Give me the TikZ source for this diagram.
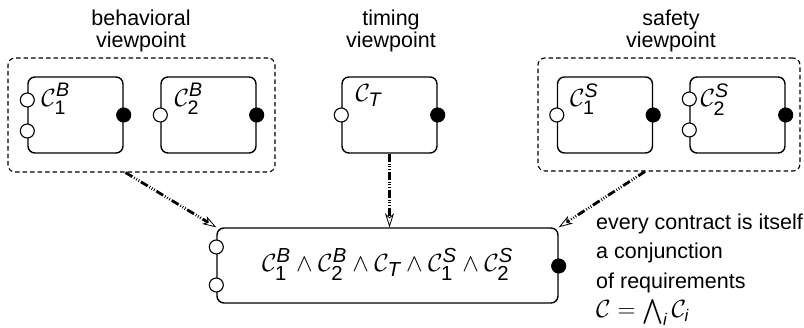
\documentclass[tikz,border=0pt]{standalone}
\usepackage{amsmath}
\usepackage{fontspec}
\setmainfont{Liberation Sans}
\setsansfont{Liberation Sans}
\usetikzlibrary{arrows.meta}
\newcommand\cC[2]{\mathcal{C}_{#1}^{#2}}
\tikzset{
  txt/.style={font=\fontsize{21.5}{21.7}\selectfont, inner sep=0pt},
  mtxt/.style={font=\fontsize{28}{30}\selectfont, inner sep=0pt},
  comp/.style={draw, line width=1.4pt, rounded corners=7pt, minimum width=95pt, minimum height=76pt, inner sep=0pt},
  vpbox/.style={draw, line width=1.1pt, dash pattern=on 4.5pt off 3pt, rounded corners=7pt, inner sep=0pt},
  inport/.style={circle, draw, fill=white, line width=1.1pt, minimum size=14pt, inner sep=0pt},
  outport/.style={circle, draw, fill=black, line width=1.1pt, minimum size=14pt, inner sep=0pt},
  clabel/.style={mtxt, anchor=north west},
  refine/.style={line width=2.8pt, dash pattern=on 8pt off 2pt on 0.8pt off 1.8pt on 0.8pt off 1.8pt on 0.8pt off 2pt,
    -{Stealth[open, length=14pt, width=9pt, inset=4pt, line width=0.8pt]}}
}
\begin{document}
\begin{tikzpicture}[x=1pt, y=-1pt]
\useasboundingbox (0,0) rectangle (804,328);

% viewpoint titles
\node[txt, anchor=north, align=center] (tbeh) at (141,9.8) {behavioral\\viewpoint};
\node[txt, anchor=north, align=center] (ttim) at (391,9.8) {\vphantom{b}timing\\viewpoint};
\node[txt, anchor=north, align=center] (tsaf) at (671,9.8) {\vphantom{b}safety\\viewpoint};

% dashed viewpoint boxes
\node[vpbox, minimum width=267pt, minimum height=114pt] (behav) at (141.5,115) {};
\node[vpbox, minimum width=262pt, minimum height=113pt] (safety) at (669,114.5) {};

% behavioral components
\node[comp] (c1b) at (75.5,115) {};
\node[clabel] (c1bl) at ([xshift=14pt,yshift=-7pt]c1b.north west) {$\cC{\mathsf{1}}{\mathit{B}}$};
\node[inport] (c1bi1) at ([yshift=15pt]c1b.west) {};
\node[inport] (c1bi2) at ([yshift=-16pt]c1b.west) {};
\node[outport] (c1bo) at (c1b.east) {};

\node[comp] (c2b) at (208.5,115) {};
\node[clabel] (c2bl) at ([xshift=14pt,yshift=-7pt]c2b.north west) {$\cC{\mathsf{2}}{\mathit{B}}$};
\node[inport] (c2bi) at (c2b.west) {};
\node[outport] (c2bo) at (c2b.east) {};

% timing component
\node[comp] (ct) at (389.5,115) {};
\node[clabel] (ctl) at ([xshift=14pt,yshift=-8pt]ct.north west) {$\mathcal{C}_{\mathit{T}}$};
\node[inport] (cti) at (ct.west) {};
\node[outport] (cto) at (ct.east) {};

% safety components
\node[comp] (c1s) at (605,115) {};
\node[clabel] (c1sl) at ([xshift=13pt,yshift=-7pt]c1s.north west) {$\cC{\mathsf{1}}{\mathit{S}}$};
\node[inport] (c1si) at (c1s.west) {};
\node[outport] (c1so) at (c1s.east) {};

\node[comp] (c2s) at (737.5,115) {};
\node[clabel] (c2sl) at ([xshift=11pt,yshift=-7pt]c2s.north west) {$\cC{\mathsf{2}}{\mathit{S}}$};
\node[inport] (c2si1) at ([yshift=16pt]c2s.west) {};
\node[inport] (c2si2) at ([yshift=-15pt]c2s.west) {};
\node[outport] (c2so) at (c2s.east) {};

% conjunction component
\node[comp, minimum width=341pt, minimum height=75pt] (big) at (387.5,265.5) {};
\node[mtxt, font=\fontsize{29}{31}\selectfont] (bigl) at (387.5,264.5) {$\cC{\mathsf{1}}{\mathit{B}}\wedge\cC{\mathsf{2}}{\mathit{B}}\wedge\mathcal{C}_{\mathit{T}}\wedge\cC{\mathsf{1}}{\mathit{S}}\wedge\cC{\mathsf{2}}{\mathit{S}}$};
\node[inport] (bigi1) at ([yshift=18.5pt]big.west) {};
\node[inport] (bigi2) at ([yshift=-19.5pt]big.west) {};
\node[outport] (bigo) at ([yshift=-0.5pt]big.east) {};

% refinement connectors
\coordinate (bstart) at ([xshift=-16pt]behav.south);
\coordinate (sstart) at ([xshift=-24pt]safety.south);
\draw[refine] (bstart) -- (big.north west);
\draw[refine] (ct.south) -- (ct.south |- big.north);
\draw[refine] (sstart) -- (big.north east);

% annotation
\node[txt, anchor=base west, align=left, font=\fontsize{21.5}{29.5}\selectfont] (note) at (596,318) {every contract is itself\\a conjunction\\of requirements\\{\fontsize{24}{28}\selectfont$\mathcal{C}=\bigwedge_{\mathit{i}}\mathcal{C}_{\mathit{i}}$}};
\end{tikzpicture}
\end{document}
